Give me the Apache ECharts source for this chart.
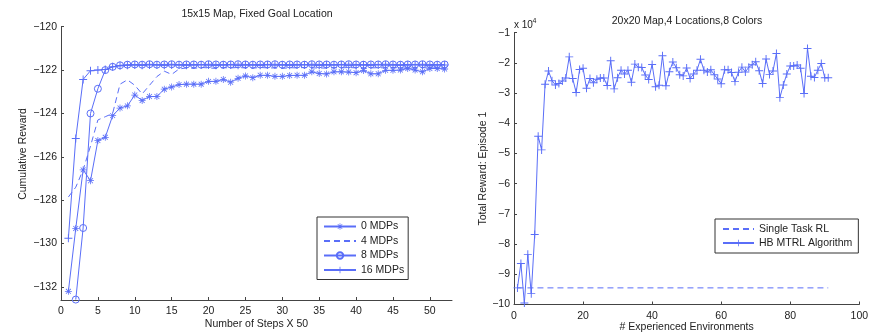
<!DOCTYPE html>
<html><head><meta charset="utf-8">
<script src="https://cdn.jsdelivr.net/npm/echarts@6/dist/echarts.min.js"></script>
<style>html,body{margin:0;padding:0;background:#fff}#c{width:881px;height:332px}</style>
</head><body><div id="c"></div>
<script>
// ---------- Left chart data ----------
const leftTitle = '15x15 Map, Fixed Goal Location';
const leftXName = 'Number of Steps X 50';
const leftYName = 'Cumulative Reward';
const leftXTicks = [0, 5, 10, 15, 20, 25, 30, 35, 40, 45, 50];
const leftYTicks = [-132, -130, -128, -126, -124, -122, -120];
const stepsX = [1,2,3,4,5,6,7,8,9,10,11,12,13,14,15,16,17,18,19,20,21,22,23,24,25,26,27,28,29,30,31,32,33,34,35,36,37,38,39,40,41,42,43,44,45,46,47,48,49,50,51,52];
const mdp0 = [-132.2,-129.3,-126.6,-127.1,-125.25,-125.1,-124.1,-123.75,-123.65,-123.15,-123.4,-123.22,-123.22,-122.88,-122.78,-122.67,-122.65,-122.65,-122.65,-122.52,-122.52,-122.43,-122.56,-122.38,-122.27,-122.35,-122.24,-122.24,-122.29,-122.29,-122.25,-122.24,-122.24,-122.08,-122.16,-122.18,-122.08,-122.08,-122.09,-122.12,-122.02,-122.17,-122.17,-122.01,-122.01,-122.0,-121.93,-122.0,-122.08,-121.93,-121.93,-121.95];
const mdp4 = [-127.85,-127.4,-126.6,-125.5,-124.3,-124.15,-124.0,-122.65,-122.45,-122.7,-123.1,-122.7,-122.3,-122.05,-122.2,-121.95,-121.9,-121.92,-121.88,-121.9,-121.92,-121.89,-121.9,-121.88,-121.9,-121.91,-121.88,-121.9,-121.9,-121.92,-121.89,-121.9,-121.88,-121.9,-121.9,-121.91,-121.89,-121.9,-121.88,-121.9,-121.92,-121.9,-121.89,-121.9,-121.88,-121.9,-121.91,-121.9,-121.89,-121.9,-121.9,-121.9];
const mdp8 = [null,-132.58,-129.28,-124.0,-122.86,-122.0,-121.85,-121.78,-121.75,-121.74,-121.75,-121.73,-121.75,-121.74,-121.73,-121.75,-121.74,-121.74,-121.75,-121.73,-121.74,-121.75,-121.74,-121.73,-121.74,-121.75,-121.74,-121.74,-121.73,-121.75,-121.74,-121.74,-121.75,-121.73,-121.74,-121.74,-121.75,-121.74,-121.73,-121.74,-121.75,-121.74,-121.74,-121.73,-121.74,-121.75,-121.74,-121.74,-121.73,-121.74,-121.75,-121.74];
const mdp16 = [-129.75,-125.15,-122.43,-122.03,-122.0,-121.97,-121.85,-121.8,-121.78,-121.77,-121.78,-121.76,-121.77,-121.78,-121.76,-121.77,-121.78,-121.77,-121.76,-121.77,-121.78,-121.77,-121.76,-121.78,-121.77,-121.77,-121.78,-121.76,-121.77,-121.77,-121.78,-121.77,-121.76,-121.77,-121.78,-121.77,-121.77,-121.76,-121.78,-121.77,-121.77,-121.78,-121.76,-121.77,-121.77,-121.78,-121.77,-121.76,-121.77,-121.78,-121.77,-121.77];
const leftNames = ['0 MDPs', '4 MDPs', '8 MDPs', '16 MDPs'];

// ---------- Right chart data (values in units of 10^4) ----------
const rightTitle = '20x20 Map,4 Locations,8 Colors';
const rightXName = '# Experienced Environments';
const rightYName = 'Total Reward: Episode 1';
const envX = [1,2,3,4,5,6,7,8,9,10,11,12,13,14,15,16,17,18,19,20,21,22,23,24,25,26,27,28,29,30,31,32,33,34,35,36,37,38,39,40,41,42,43,44,45,46,47,48,49,50,51,52,53,54,55,56,57,58,59,60,61,62,63,64,65,66,67,68,69,70,71,72,73,74,75,76,77,78,79,80,81,82,83,84,85,86,87,88,89,90,91];
const hbMtrl = [-9.45,-8.64,-9.95,-8.34,-9.64,-7.68,-4.43,-4.88,-2.71,-2.27,-2.59,-2.73,-2.68,-2.6,-2.5,-1.8,-2.52,-2.98,-2.22,-2.18,-2.84,-2.52,-2.66,-2.54,-2.5,-2.5,-2.75,-1.93,-2.86,-2.49,-2.24,-2.37,-2.24,-2.64,-2.04,-2.14,-2.15,-2.4,-2.55,-2.05,-2.79,-2.74,-1.76,-2.76,-2.29,-1.97,-2.16,-2.39,-2.43,-2.17,-2.52,-2.37,-2.24,-1.88,-2.24,-2.3,-2.23,-2.39,-2.53,-2.69,-2.23,-2.23,-2.32,-2.62,-2.31,-2.14,-2.3,-2.14,-2.06,-1.96,-2.26,-2.68,-1.87,-2.38,-2.27,-1.69,-3.15,-2.73,-2.37,-2.1,-2.1,-2.07,-2.18,-3.01,-1.52,-2.44,-2.48,-2.24,-2.02,-2.49,-2.49];
const singleTaskX = [1, 91];
const singleTaskY = [-9.45, -9.45];
const rightNames = ['Single Task RL', 'HB MTRL Algorithm'];

// ---------- styling ----------
const BLUE = '#5a6ef8';
const AX = '#444';
const FONT = "'Liberation Sans', Arial, sans-serif";
const FS = 10.5;
const PLUS = 'path://M4.4,0H5.6V10H4.4ZM0,4.4H10V5.6H0Z';
const STAR = 'path://M4.45,0H5.55V10H4.45ZM0,4.45H10V5.55H0ZM1.89,1.11L8.89,8.11L8.11,8.89L1.11,1.89ZM8.89,1.89L1.89,8.89L1.11,8.11L8.11,1.11Z';
const minus = v => String(v).replace('-', '\u2212');
const pairs = (xs, ys) => xs.map((x, i) => [x, ys[i] === null ? '-' : ys[i]]);
const HIDE = { color: 'rgba(0,0,0,0)', borderColor: 'rgba(0,0,0,0)', borderWidth: 0, opacity: 0 };

function axisCommon() {
  return {
    axisLine: { show: true, onZero: false, lineStyle: { color: AX, width: 1 } },
    axisTick: { show: true, inside: true, length: 3, lineStyle: { color: AX } },
    splitLine: { show: false },
    axisLabel: { color: '#222', fontFamily: FONT, fontSize: FS }
  };
}

const chart = echarts.init(document.getElementById('c'), null, { renderer: 'canvas' });
const xL = axisCommon(), yL = axisCommon(), xR = axisCommon(), yR = axisCommon();

Object.assign(xL, { type: 'value', gridIndex: 0, min: 0, max: 53,
  name: leftXName, nameLocation: 'middle', nameGap: 19, nameMoveOverlap: false,
  nameTextStyle: { color: '#222', fontFamily: FONT, fontSize: FS } });
xL.axisLabel = Object.assign({}, xL.axisLabel, { customValues: leftXTicks, margin: 6 });
xL.axisTick = Object.assign({}, xL.axisTick, { customValues: leftXTicks });

Object.assign(yL, { type: 'value', gridIndex: 0, min: -132.6, max: -120 });
yL.axisLabel = Object.assign({}, yL.axisLabel, { customValues: leftYTicks, formatter: minus, margin: 4 });
yL.axisTick = Object.assign({}, yL.axisTick, { customValues: leftYTicks });

Object.assign(xR, { type: 'value', gridIndex: 1, min: 0, max: 100, interval: 20,
  name: rightXName, nameLocation: 'middle', nameGap: 17, nameMoveOverlap: false,
  nameTextStyle: { color: '#222', fontFamily: FONT, fontSize: FS } });
xR.axisLabel = Object.assign({}, xR.axisLabel, { margin: 6 });

Object.assign(yR, { type: 'value', gridIndex: 1, min: -10, max: -1, interval: 1,
  name: rightYName, nameLocation: 'middle', nameGap: 25, nameRotate: 90, nameMoveOverlap: false,
  nameTextStyle: { color: '#222', fontFamily: FONT, fontSize: FS } });
yR.axisLabel = Object.assign({}, yR.axisLabel, { formatter: minus, margin: 4 });

const legendText = { color: '#222', fontFamily: FONT, fontSize: FS };

chart.setOption({
  animation: false,
  backgroundColor: '#fff',
  grid: [
    { left: 61, top: 26.7, width: 391, height: 273.3, outerBoundsMode: 'none', containLabel: false },
    { left: 514, top: 32.7, width: 345.3, height: 271.8, outerBoundsMode: 'none', containLabel: false }
  ],
  xAxis: [xL, xR],
  yAxis: [yL, yR],
  legend: [
    { data: [leftNames[0], { name: leftNames[1], itemStyle: HIDE }, leftNames[2], leftNames[3]],
      orient: 'vertical', left: 317, top: 217,
      borderColor: '#333', borderWidth: 1, padding: [4, 4, 4, 6],
      itemWidth: 32, itemHeight: 8, itemGap: 3.5, textStyle: legendText },
    { data: [{ name: rightNames[0], itemStyle: HIDE }, rightNames[1]],
      orient: 'vertical', left: 715, top: 219,
      borderColor: '#333', borderWidth: 1, padding: [4.5, 6, 4.5, 7],
      itemWidth: 31, itemHeight: 8, itemGap: 3, textStyle: legendText }
  ],
  graphic: [
    { type: 'text', x: 257, y: 14, style: { text: leftTitle, fill: '#222', font: FS + 'px ' + FONT, textAlign: 'center', textVerticalAlign: 'middle' } },
    { type: 'text', x: 687, y: 20.7, style: { text: rightTitle, fill: '#222', font: FS + 'px ' + FONT, textAlign: 'center', textVerticalAlign: 'middle' } },
    { type: 'text', x: 514, y: 25, style: { text: 'x 10', fill: '#222', font: '10px ' + FONT, textAlign: 'left', textVerticalAlign: 'middle' } },
    { type: 'text', x: 532.5, y: 21.5, style: { text: '4', fill: '#222', font: '7px ' + FONT, textAlign: 'left', textVerticalAlign: 'middle' } },
    { type: 'text', x: 23, y: 154, rotation: Math.PI / 2, style: { text: leftYName, fill: '#222', font: FS + 'px ' + FONT, textAlign: 'center', textVerticalAlign: 'middle' } }
  ],
  series: [
    { name: leftNames[0], type: 'line', xAxisIndex: 0, yAxisIndex: 0, data: pairs(stepsX, mdp0),
      symbol: STAR, symbolSize: 7, lineStyle: { color: BLUE, width: 1 }, itemStyle: { color: BLUE, borderWidth: 0 } },
    { name: leftNames[1], type: 'line', xAxisIndex: 0, yAxisIndex: 0, data: pairs(stepsX, mdp4),
      symbol: 'none', lineStyle: { color: BLUE, width: 1, type: [6, 4] }, itemStyle: { color: BLUE } },
    { name: leftNames[2], type: 'line', xAxisIndex: 0, yAxisIndex: 0, data: pairs(stepsX, mdp8),
      symbol: 'circle', symbolSize: 7, connectNulls: false, lineStyle: { color: BLUE, width: 1 },
      itemStyle: { color: 'rgba(255,255,255,0)', borderColor: BLUE, borderWidth: 1 } },
    { name: leftNames[3], type: 'line', xAxisIndex: 0, yAxisIndex: 0, data: pairs(stepsX, mdp16),
      symbol: PLUS, symbolSize: 8, lineStyle: { color: BLUE, width: 1 }, itemStyle: { color: BLUE, borderWidth: 0 } },
    { name: rightNames[0], type: 'line', xAxisIndex: 1, yAxisIndex: 1, data: pairs(singleTaskX, singleTaskY),
      symbol: 'none', lineStyle: { color: BLUE, width: 1, type: [6, 4] }, itemStyle: { color: BLUE } },
    { name: rightNames[1], type: 'line', xAxisIndex: 1, yAxisIndex: 1, data: pairs(envX, hbMtrl),
      symbol: PLUS, symbolSize: 8, lineStyle: { color: BLUE, width: 1 }, itemStyle: { color: BLUE, borderWidth: 0 } }
  ]
});
</script>
</body></html>
